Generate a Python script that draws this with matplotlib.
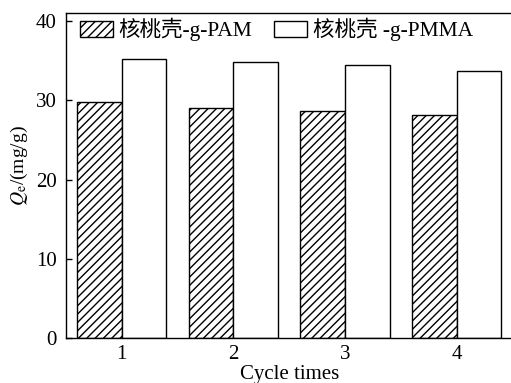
import numpy as np
import matplotlib
matplotlib.use("Agg")
import matplotlib.pyplot as plt

plt.rcParams['font.family'] = ['Liberation Serif', 'Noto Sans CJK SC']
plt.rcParams['mathtext.fontset'] = 'stix'
plt.rcParams['hatch.linewidth'] = 1.0

# adsorption capacity over repeated cycles
cycles = [1, 2, 3, 4]
q_pam = [29.8, 29.0, 28.6, 28.2]
q_pmma = [35.2, 34.8, 34.4, 33.7]
labels = ['核桃壳-g-PAM', '核桃壳 -g-PMMA']

fig = plt.figure(figsize=(5.11, 3.83), dpi=100)
ax = fig.add_axes([0.129, 0.117, 0.874, 0.849])

x = np.array(cycles)
w = 0.4
ax.bar(x - w / 2, q_pam, w, color='white', edgecolor='black', hatch='////',
       linewidth=1.0, label=labels[0])
ax.bar(x + w / 2, q_pmma, w, color='white', edgecolor='black',
       linewidth=1.0, label=labels[1])

ax.set_xlim(0.5, 4.5)
ax.set_ylim(0, 41)
ax.set_xticks(cycles)
ax.set_yticks([0, 10, 20, 30, 40])
ax.tick_params(direction='in', length=4.5, width=1, labelsize=15, pad=6.5)
ax.tick_params(axis='x', length=0, pad=5)
for s in ax.spines.values():
    s.set_linewidth(1.0)

ax.set_xlabel('Cycle times', fontsize=15, labelpad=0.5)
ax.set_ylabel(r'$Q_{\mathrm{e}}$/(mg/g)', fontsize=14)
ax.yaxis.set_label_coords(-0.08, 0.53)

ax.legend(loc='upper left', bbox_to_anchor=(0.031, 0.985), ncol=2,
          frameon=False, fontsize=15.5, handlelength=1.55, handleheight=0.75,
          handletextpad=0.25, columnspacing=1.0, borderaxespad=0,
          borderpad=0)

fig.savefig('out.png', dpi=100)
